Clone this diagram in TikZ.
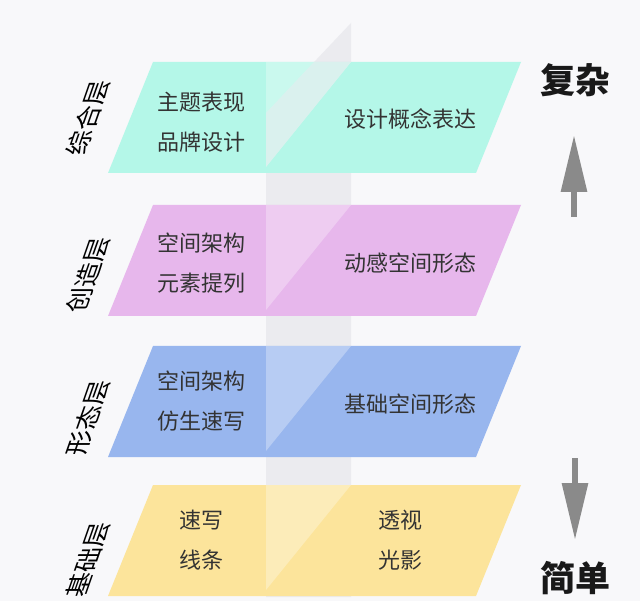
\documentclass[tikz,border=0pt]{standalone}
\usepackage{fontspec}
\usepackage{tikz}
\usetikzlibrary{arrows.meta}
\newfontfamily\cjk{Noto Sans CJK SC}
\definecolor{bgcol}{HTML}{F8F8FA}
\definecolor{stripcol}{HTML}{EBEBEF}
\definecolor{mintcol}{HTML}{B4F7E8}
\definecolor{lilaccol}{HTML}{E7B7EC}
\definecolor{skycol}{HTML}{98B6EE}
\definecolor{sandcol}{HTML}{FCE49B}
\definecolor{inktext}{HTML}{333333}
\definecolor{arrowgrey}{HTML}{8A8A8A}

% one slanted layer band, #1 = top edge, #2 = colour
\newcommand{\layerband}[2]{%
  \fill[#2] (153,#1) -- (521,#1) -- (476,#1+111) -- (108,#1+111) -- cycle;
  \fill[white, opacity=0.3] (266,#1) -- (351,#1) -- (266,#1+105) -- cycle;}

\begin{document}
\begin{tikzpicture}[x=1pt, y=-1pt,
  itemtext/.style={font=\cjk\fontsize{22}{40}\selectfont, text=inktext,
                   align=left, inner sep=0pt},
  layername/.style={font=\cjk\fontsize{25}{25}\selectfont, text=black,
                    inner sep=0pt, xslant=0.35, rotate=90},
  levelname/.style={font=\cjk\bfseries\fontsize{35}{35}\selectfont,
                    text=black!90, inner sep=0pt},
  levelarrow/.style={-{Triangle[width=25pt, length=57pt]},
                     line width=6pt, arrowgrey},
]
  \fill[bgcol] (0,0) rectangle (640,601);
  \useasboundingbox (0,0) rectangle (640,601);

  % the vertical plane behind the layers
  \fill[stripcol] (266,113) -- (351,23) -- (351,597) -- (266,597) -- cycle;

  \layerband{62}{mintcol}
  \layerband{205}{lilaccol}
  \layerband{346}{skycol}
  \layerband{485}{sandcol}

  % plane edge cutting the top layer
  \fill[stripcol, opacity=0.5] (314,62) -- (351,62) -- (266,167) -- (266,113) -- cycle;

  \node[itemtext] (t1) at (201,122) {主题表现\\品牌设计};
  \node[itemtext] (t1r) at (410,119) {设计概念表达};
  \node[itemtext] (t2) at (201,263) {空间架构\\元素提列};
  \node[itemtext] (t2r) at (410,263) {动感空间形态};
  \node[itemtext] (t3) at (201,401) {空间架构\\仿生速写};
  \node[itemtext] (t3r) at (410,404) {基础空间形态};
  \node[itemtext] (t4) at (201,540) {速写\\线条};
  \node[itemtext] (t4r) at (400,540) {透视\\光影};

  \node[layername] (n1) at (88,118) {综合层};
  \node[layername] (n2) at (88,275) {创造层};
  \node[layername] (n3) at (88,418) {形态层};
  \node[layername] (n4) at (88,560) {基础层};

  \node[levelname] (hard) at (575,80) {复杂};
  \node[levelname] (easy) at (575,578) {简单};

  \coordinate (upfoot) at (574,217);
  \coordinate (uptip) at (574,135);
  \coordinate (downfoot) at (575,458);
  \coordinate (downtip) at (575,540);
  \draw[levelarrow] (upfoot) -- (uptip);
  \draw[levelarrow] (downfoot) -- (downtip);
\end{tikzpicture}
\end{document}
